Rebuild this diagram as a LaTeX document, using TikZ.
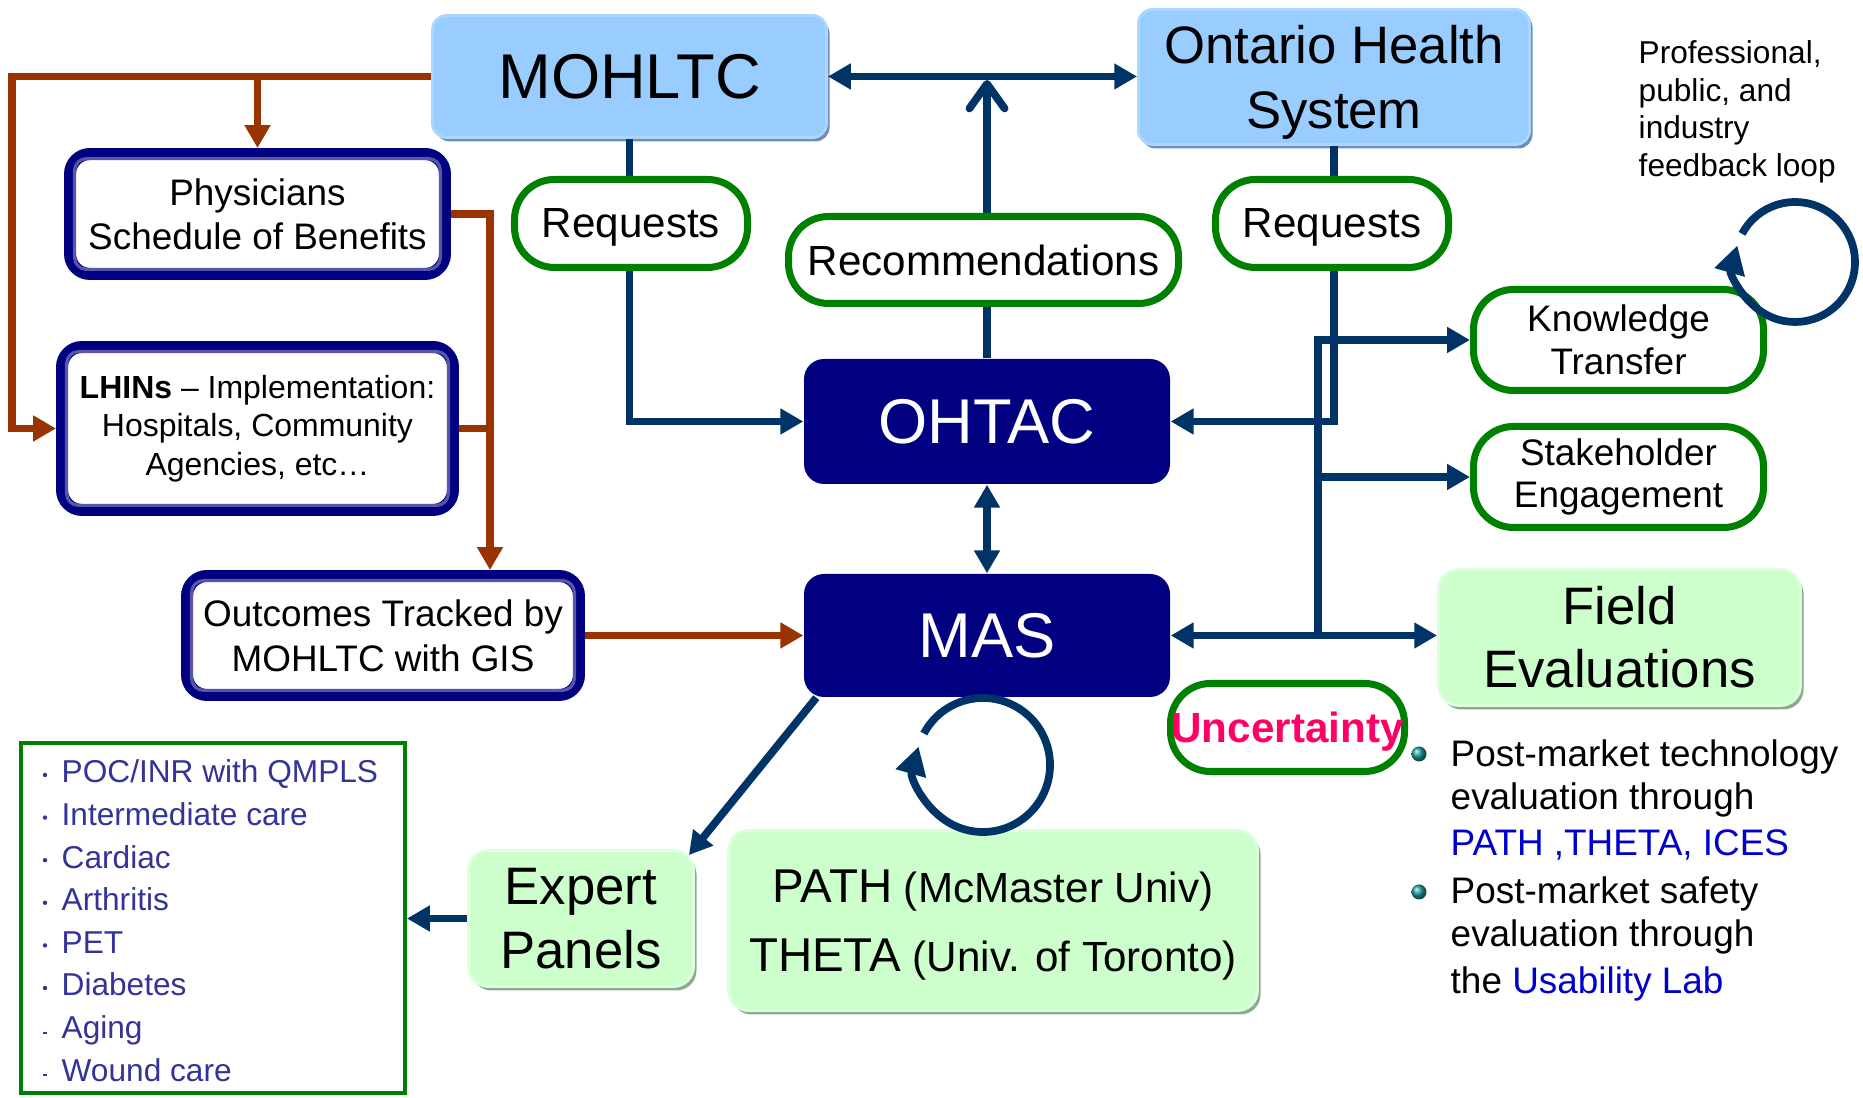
\documentclass[tikz,border=0pt]{standalone}
\usepackage{fontspec}
\setmainfont{Liberation Sans}
\usetikzlibrary{arrows.meta}
\usetikzlibrary{shadows}

\definecolor{lblue}{HTML}{99CCFF}
\definecolor{lbluerim}{HTML}{ADD6FF}
\definecolor{lblueshade}{HTML}{6F8FB8}
\definecolor{lgreen}{HTML}{CCFFCC}
\definecolor{lgreenrim}{HTML}{DDFFDD}
\definecolor{lgreenshade}{HTML}{8CAA8C}
\definecolor{boxnavy}{HTML}{000080}
\definecolor{rimnavy}{HTML}{5656AA}
\definecolor{linenavy}{HTML}{003366}
\definecolor{linebrown}{HTML}{993300}
\definecolor{pillgreen}{HTML}{008000}
\definecolor{listblue}{HTML}{333399}
\definecolor{hotpink}{HTML}{FF0066}
\definecolor{linkblue}{HTML}{0000CC}
\definecolor{gemteal}{HTML}{1A9A9A}
\newcommand{\fsz}[2]{\fontsize{#1}{#2}\selectfont}

\begin{document}
\begin{tikzpicture}[
  >={Triangle[width=7pt,length=6.5pt]},
  bluebox/.style={rectangle, rounded corners=0.14cm, fill=lblue, draw=lbluerim, line width=0.8pt, align=center, inner sep=0pt,
    drop shadow={shadow xshift=0.03cm, shadow yshift=-0.04cm, fill=lblueshade, opacity=1}},
  greenbox/.style={rectangle, rounded corners=0.2cm, fill=lgreen, draw=lgreenrim, line width=0.8pt, align=center, inner sep=0pt,
    drop shadow={shadow xshift=0.03cm, shadow yshift=-0.04cm, fill=lgreenshade, opacity=1}},
  navybox/.style={rectangle, rounded corners=0.2cm, fill=boxnavy, text=white, inner sep=0pt, font=\fsz{18}{21}},
  rimbox/.style={rectangle, rounded corners=0.2cm, fill=white, draw=boxnavy, line width=3.4pt, align=center, inner sep=0pt},
  pill/.style={rectangle, rounded corners=0.4cm, fill=white, draw=pillgreen, line width=2pt, align=center, inner sep=0pt},
  navyline/.style={draw=linenavy, line width=2.2pt},
  brownline/.style={draw=linebrown, line width=2.2pt},
  looptip/.style={-{Triangle[width=8.5pt,length=8pt]}},
  sidetext/.style={inner sep=0pt, anchor=base west, font=\fsz{10.5}{12.6}},
  listtext/.style={inner sep=0pt, anchor=base west, text=listblue, font=\fsz{9}{12}},
]
\useasboundingbox (0,0) rectangle (18.63,10.98);

% top row
\node[bluebox, minimum width=3.94cm, minimum height=1.22cm, font=\fsz{18}{21}] (mohltc) at (6.295,10.215) {MOHLTC};
\node[bluebox, minimum width=3.91cm, minimum height=1.35cm, font=\fsz{15}{18.4}, text depth=0pt] (ohs) at (13.34,10.21) {Ontario Health\\System};

% left column
\node[rimbox, minimum width=3.75cm, minimum height=1.20cm, font=\fsz{10.5}{12.5}] (phys) at (2.575,8.84) {Physicians\\Schedule of Benefits};
\node[rimbox, minimum width=3.91cm, minimum height=1.63cm, font=\fsz{9.1}{11}] (lhins) at (2.575,6.695) {\textbf{LHINs} – Implementation:\\Hospitals, Community\\Agencies, etc…};
\node[rimbox, minimum width=3.92cm, minimum height=1.19cm, font=\fsz{10.5}{12.8}] (outc) at (3.83,4.625) {Outcomes Tracked by\\MOHLTC with GIS};
\foreach \n in {phys,lhins,outc}
  \draw[rimnavy, line width=0.9pt, rounded corners=0.12cm] ([shift={(3pt,3pt)}]\n.south west) rectangle ([shift={(-3pt,-3pt)}]\n.north east);

% centre
\node[navybox, minimum width=3.66cm, minimum height=1.25cm] (ohtac) at (9.87,6.765) {OHTAC};
\node[navybox, minimum width=3.66cm, minimum height=1.23cm] (mas) at (9.87,4.625) {MAS};

% right column
\node[pill, minimum width=2.90cm, minimum height=1.01cm, font=\fsz{10.5}{12.2}] (kt) at (16.185,7.58) {Knowledge\\Transfer};
\node[pill, minimum width=2.90cm, minimum height=1.01cm, font=\fsz{10.5}{12.2}] (se) at (16.185,6.21) {Stakeholder\\Engagement};
\node[greenbox, minimum width=3.62cm, minimum height=1.36cm, font=\fsz{15}{18}] (fe) at (16.195,4.605) {Field\\Evaluations};

% bottom
\node[greenbox, minimum width=2.25cm, minimum height=1.36cm, font=\fsz{15}{18}] (ep) at (5.81,1.795) {Expert\\Panels};
\node[greenbox, minimum width=5.29cm, minimum height=1.80cm, font=\fsz{12}{19.6}, text depth=0pt] (path) at (9.93,1.775) {{\fsz{13.5}{19.6}PATH} (McMaster Univ)\\{\fsz{13.5}{19.6}THETA} (Univ. of Toronto)};
\node[draw=pillgreen, line width=1.1pt, minimum width=3.84cm, minimum height=3.50cm, inner sep=0pt] (list) at (2.13,1.80) {};

% brown arrows
\coordinate (rail) at (4.90,8.84);
\draw[brownline,->] (mohltc.west) -- ++(-4.19,0) |- (lhins.west);
\draw[brownline,->] (phys.north |- mohltc.west) -- (phys.north);
\draw[brownline,->] (phys.east) -| ([xshift=1.07cm]outc.north);
\draw[brownline] (lhins.east) -- (lhins.east -| rail);
\draw[brownline,->] (outc.east) -- (mas.west);

% navy arrows
\coordinate (fork) at (13.18,4.625);
\draw[navyline,<->] (mohltc.east) -- (mohltc.east -| ohs.west);
\draw[navyline,->] (mohltc.south) |- (ohtac.west);
\draw[navyline,->] (ohs.south) |- (ohtac.east);
\draw[navyline,-{Straight Barb[length=7pt,width=10pt,round]},shorten >=1pt] (ohtac.north) -- (ohtac.north |- mohltc.east);
\draw[navyline,<->] (ohtac.south) -- (mas.north);
\draw[navyline,<->] (mas.east) -- (mas.east -| fe.west);
\draw[navyline,->] (fork) |- (kt.west);
\draw[navyline,->] (fork |- se.west) -- (se.west);
\draw[navyline,->] ([xshift=0.13cm]mas.south west) -- ([shift={(-0.06,-0.06)}]ep.north east);
\draw[navyline,->] (ep.west) -- (ep.west -| list.east);

% labels on the arrows
\node[pill, minimum width=2.33cm, minimum height=0.88cm, font=\fsz{12}{14}, text depth=0pt] (reqL) at (6.31,8.745) {Requests};
\node[pill, minimum width=3.90cm, minimum height=0.87cm, font=\fsz{12}{14}] (recom) at (9.835,8.38) {Recommendations};
\node[pill, minimum width=2.33cm, minimum height=0.88cm, font=\fsz{12}{14}, text depth=0pt] (reqR) at (13.32,8.745) {Requests};
\node[pill, minimum width=2.34cm, minimum height=0.88cm, text=hotpink, font=\fsz{12}{14}\bfseries, text depth=0pt] (unc) at (12.875,3.705) {Uncertainty};

% loops
\coordinate (masloop) at (9.83,3.33);
\draw[navyline,looptip] (masloop) ++(152:0.67) arc[start angle=152, end angle=-196, radius=0.67];
\coordinate (fbloop) at (17.95,8.36);
\draw[navyline,looptip] (fbloop) ++(152:0.60) arc[start angle=152, end angle=-196, radius=0.60];

% feedback note
\node[inner sep=0pt, anchor=base west, font=\fsz{9}{11}] (fb1) at (16.38,10.34) {Professional,};
\node[inner sep=0pt, anchor=base west, font=\fsz{9}{11}] (fb2) at (16.38,9.96) {public, and};
\node[inner sep=0pt, anchor=base west, font=\fsz{9}{11}] (fb3) at (16.38,9.59) {industry};
\node[inner sep=0pt, anchor=base west, font=\fsz{9}{11}] (fb4) at (16.38,9.21) {feedback loop};

% post-market notes
\shade[ball color=gemteal] (14.19,3.44) circle (0.075);
\node[sidetext] (pm1) at (14.50,3.31) {Post-market technology};
\node[sidetext] (pm2) at (14.50,2.88) {evaluation through};
\node[sidetext, text=linkblue] (pm3) at (14.50,2.42) {PATH ,THETA, ICES};
\shade[ball color=gemteal] (14.19,2.06) circle (0.075);
\node[sidetext] (pm4) at (14.50,1.94) {Post-market safety};
\node[sidetext] (pm5) at (14.50,1.51) {evaluation through};
\node[sidetext] (pm6) at (14.50,1.04) {the \textcolor{linkblue}{Usability Lab}};

% list of topics
\foreach \entry [count=\k from 0] in {POC/INR with QMPLS, Intermediate care, Cardiac, Arthritis, PET, Diabetes, Aging, Wound care}
  \node[listtext] (item\k) at (0.61,{3.15-0.426*\k}) {\entry};
\foreach \k in {0,...,5}
  \fill[listblue] (0.45,{3.15-0.426*\k+0.08}) circle (0.022);
\foreach \k in {6,7}
  \fill[listblue] (0.43,{3.15-0.426*\k+0.05}) rectangle (0.47,{3.15-0.426*\k+0.07});

\end{tikzpicture}
\end{document}
